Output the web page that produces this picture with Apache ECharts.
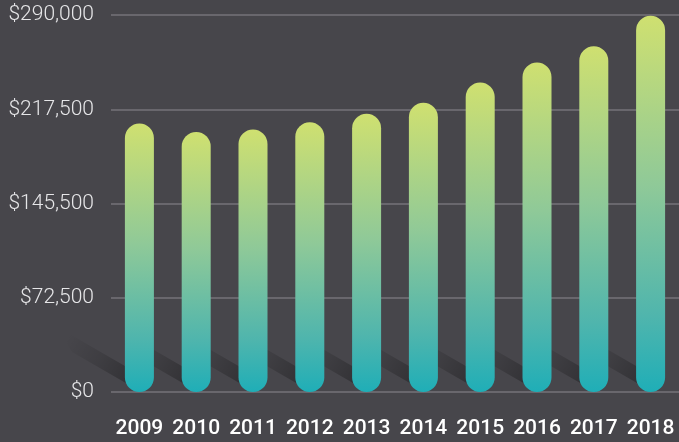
<!DOCTYPE html>
<html>
	<head>
		<meta charset="utf-8">
		<title></title>
		<style type="text/css">
			* {
				margin: 0;
				padding: 0;
			}

			body {
				background: #47464b;
			}

			#main {
				width: 679px;
				height: 442px;
			}
		</style>
		<script src="https://cdn.jsdelivr.net/npm/echarts@6/dist/echarts.min.js"></script>
	</head>
	<body>
		<div id="main"></div>
	</body>
	<script type="text/javascript">
		// data
		var years = ['2009', '2010', '2011', '2012', '2013', '2014', '2015', '2016', '2017', '2018'];
		var revenue = [206500, 200000, 202000, 207500, 214000, 222500, 238000, 253500, 266000, 289500];
		var tickValues = [0, 72500, 145000, 217500, 290000];
		var tickLabels = ['$0', '$72,500', '$145,500', '$217,500', '$290,000'];

		var chart = echarts.init(document.getElementById('main'));

		var barW = 29;

		// long diagonal shadow behind each bar
		function renderShadow(params, api) {
			var p = api.coord([api.value(0), 0]);
			var cx = p[0], y0 = p[1];
			var ang = 30 * Math.PI / 180;
			var L = 80;
			var dx = -L * Math.cos(ang), dy = -L * Math.sin(ang);
			var a = [cx + 2, y0];
			var b = [cx - barW / 2, y0 - 26];
			var pts = [a, b, [b[0] + dx, b[1] + dy], [a[0] + dx, a[1] + dy]];
			return {
				type: 'polygon',
				shape: { points: pts },
				style: {
					fill: {
						type: 'linear',
						global: true,
						x: cx - 6, y: y0 - 10,
						x2: cx - 6 + dx, y2: y0 - 10 + dy,
						colorStops: [
							{ offset: 0, color: 'rgba(0,0,0,0.3)' },
							{ offset: 0.5, color: 'rgba(0,0,0,0.12)' },
							{ offset: 1, color: 'rgba(0,0,0,0)' }
						]
					}
				},
				silent: true
			};
		}

		var option = {
			backgroundColor: '#47464b',
			animation: false,
			grid: {
				left: 111,
				right: 0,
				top: 15,
				bottom: 50
			},
			xAxis: {
				type: 'category',
				data: years,
				axisLine: { show: false },
				axisTick: { show: false },
				axisLabel: {
					color: '#ffffff',
					fontFamily: 'Roboto',
					fontWeight: 500,
					fontSize: 21,
					margin: 26,
					interval: 0
				}
			},
			yAxis: {
				type: 'value',
				min: 0,
				max: 290000,
				interval: 72500,
				axisLine: { show: false },
				axisTick: { show: false },
				splitLine: {
					lineStyle: { color: '#747378', width: 1.5 }
				},
				axisLabel: {
					color: '#e6e6e8',
					fontFamily: 'Roboto',
					fontWeight: 300,
					fontSize: 21,
					margin: 17,
					formatter: function (v) {
						var i = tickValues.indexOf(v);
						return i >= 0 ? tickLabels[i] : '';
					}
				}
			},
			series: [{
				type: 'custom',
				renderItem: renderShadow,
				data: revenue.map(function (v, i) { return [i, v]; }),
				z: 1
			}, {
				type: 'bar',
				data: revenue,
				barWidth: barW,
				z: 3,
				itemStyle: {
					borderRadius: barW / 2,
					color: new echarts.graphic.LinearGradient(0, 0, 0, 1, [
						{ offset: 0, color: '#cfe070' },
						{ offset: 0.45, color: '#8fc998' },
						{ offset: 0.8, color: '#4fb5ad' },
						{ offset: 1, color: '#1faeb7' }
					])
				}
			}]
		};

		chart.setOption(option);
	</script>
</html>
